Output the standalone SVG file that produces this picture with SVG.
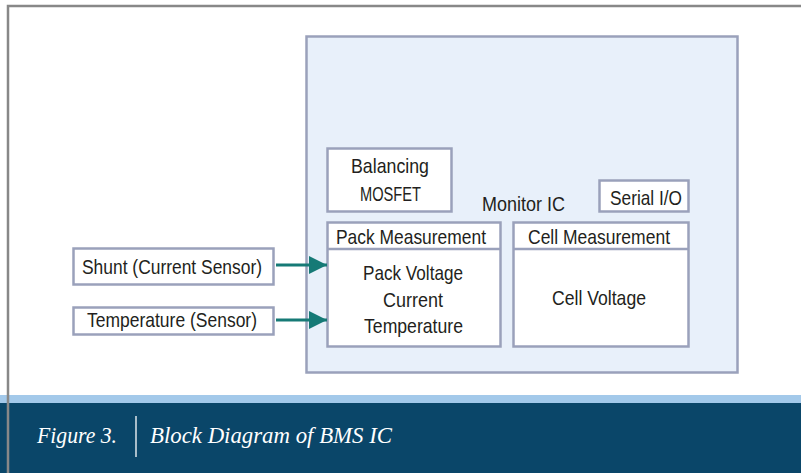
<svg xmlns="http://www.w3.org/2000/svg" width="801" height="473" viewBox="0 0 801 473">
  <style>
    .box { fill: #ffffff; stroke: #9aa1bb; stroke-width: 2.5; }
    .ic { fill: #e8f0fa; stroke: #9aa1bb; stroke-width: 2.5; }
    .lbl { font-family: "Liberation Sans", Arial, sans-serif; font-size: 21px; fill: #231f20; text-anchor: middle; }
    .wire { stroke: #167a76; stroke-width: 3; fill: none; }
    .cap { font-family: "Liberation Serif", "Times New Roman", serif; font-style: italic; font-size: 23px; fill: #ffffff; }
  </style>
  <defs>
    <marker id="head" viewBox="0 0 10 10" refX="10" refY="5" markerUnits="userSpaceOnUse" markerWidth="30" markerHeight="18" orient="auto">
      <path d="M0,0 L10,5 L0,10 Z" fill="#167a76"/>
    </marker>
  </defs>

  <rect x="0" y="0" width="801" height="473" fill="#ffffff"/>

  <!-- caption band -->
  <rect x="0" y="395" width="801" height="8" fill="#a3c9ea"/>
  <rect x="0" y="403" width="801" height="70" fill="#0a4669"/>
  <text class="cap" x="37" y="443" textLength="80" lengthAdjust="spacingAndGlyphs">Figure 3.</text>
  <line x1="136" y1="416" x2="136" y2="457" stroke="#ffffff" stroke-width="1.3"/>
  <text class="cap" x="150" y="443" textLength="242" lengthAdjust="spacingAndGlyphs">Block Diagram of BMS IC</text>

  <!-- outer frame -->
  <path d="M8,473 L8,6 L801,6" fill="none" stroke="#888888" stroke-width="2.5"/>

  <!-- monitor IC container -->
  <g id="monitor-ic">
    <rect class="ic" x="306.5" y="36.5" width="431" height="336"/>
    <text class="lbl" x="523.5" y="211" textLength="83" lengthAdjust="spacingAndGlyphs">Monitor IC</text>
  </g>

  <g id="balancing-mosfet">
    <rect class="box" x="327.5" y="148.5" width="124" height="63"/>
    <text class="lbl" x="390" y="173" textLength="78" lengthAdjust="spacingAndGlyphs">Balancing</text>
    <text class="lbl" x="390.5" y="201" textLength="61" lengthAdjust="spacingAndGlyphs">MOSFET</text>
  </g>

  <g id="serial-io">
    <rect class="box" x="599.5" y="180.5" width="89" height="31"/>
    <text class="lbl" x="646" y="205" textLength="72" lengthAdjust="spacingAndGlyphs">Serial I/O</text>
  </g>

  <g id="pack-measurement">
    <rect class="box" x="327.5" y="222.5" width="173" height="124"/>
    <line x1="327.5" y1="249" x2="500.5" y2="249" stroke="#9aa1bb" stroke-width="2.5"/>
    <text class="lbl" x="411" y="244" textLength="150" lengthAdjust="spacingAndGlyphs">Pack Measurement</text>
    <text class="lbl" x="413" y="280" textLength="100" lengthAdjust="spacingAndGlyphs">Pack Voltage</text>
    <text class="lbl" x="413" y="307" textLength="60" lengthAdjust="spacingAndGlyphs">Current</text>
    <text class="lbl" x="413.5" y="333" textLength="99" lengthAdjust="spacingAndGlyphs">Temperature</text>
  </g>

  <g id="cell-measurement">
    <rect class="box" x="513.5" y="222.5" width="175" height="124"/>
    <line x1="513.5" y1="249" x2="688.5" y2="249" stroke="#9aa1bb" stroke-width="2.5"/>
    <text class="lbl" x="599" y="244" textLength="142" lengthAdjust="spacingAndGlyphs">Cell Measurement</text>
    <text class="lbl" x="599" y="305" textLength="94" lengthAdjust="spacingAndGlyphs">Cell Voltage</text>
  </g>

  <g id="shunt">
    <rect class="box" x="73.5" y="248.5" width="200" height="36"/>
    <text class="lbl" x="172" y="274" textLength="180" lengthAdjust="spacingAndGlyphs">Shunt (Current Sensor)</text>
  </g>

  <g id="temperature">
    <rect class="box" x="73.5" y="307.5" width="200" height="27"/>
    <text class="lbl" x="172" y="327" textLength="170" lengthAdjust="spacingAndGlyphs">Temperature (Sensor)</text>
  </g>

  <!-- connectors -->
  <g id="connectors">
    <line class="wire" x1="276" y1="265" x2="327" y2="265" marker-end="url(#head)"/>
    <line class="wire" x1="276" y1="320" x2="327" y2="320" marker-end="url(#head)"/>
  </g>
</svg>
